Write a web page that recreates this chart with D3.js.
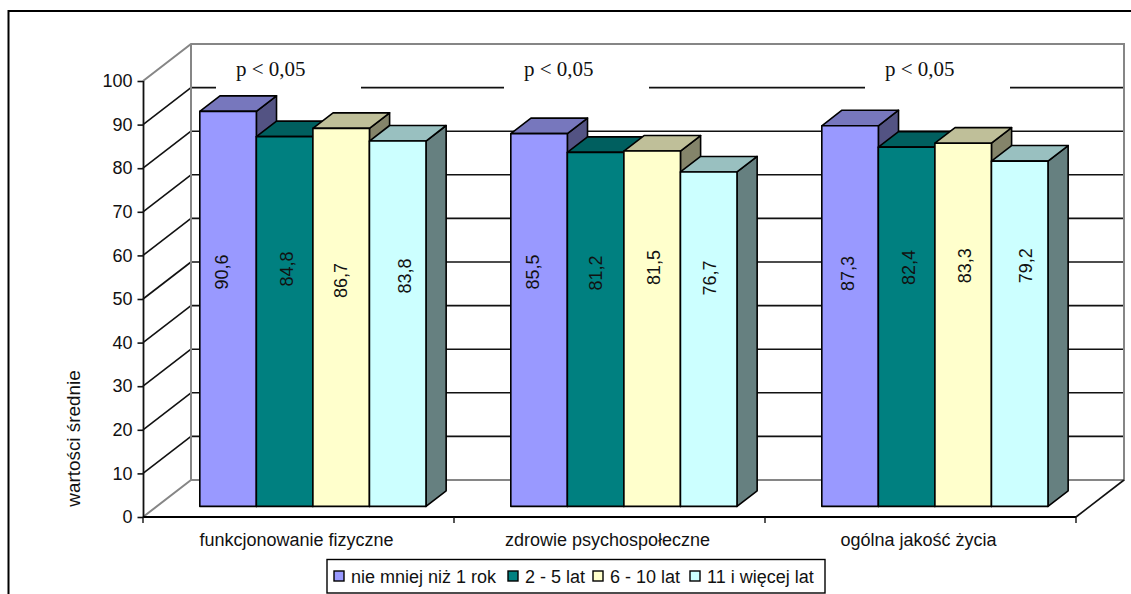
<!DOCTYPE html>
<html lang="pl">
<head>
<meta charset="utf-8">
<title>Wartości średnie</title>
<script src="https://cdn.jsdelivr.net/npm/d3@7/dist/d3.min.js"></script>
<style>
  html, body { margin: 0; padding: 0; background: #fff; overflow: hidden; }
  svg { display: block; }
  text { font-family: "Liberation Sans", Arial, sans-serif; fill: #111; }
  .note { font-family: "Liberation Serif", "Times New Roman", serif; }
</style>
</head>
<body>
<svg id="chart" width="1131" height="594"></svg>
<script>
// Chart values
const categories = ["funkcjonowanie fizyczne", "zdrowie psychospołeczne", "ogólna jakość życia"];
const seriesNames = ["nie mniej niż 1 rok", "2 - 5 lat", "6 - 10 lat", "11 i więcej lat"];
const firstYear = [90.6, 85.5, 87.3];
const twoToFive = [84.8, 81.2, 82.4];
const sixToTen = [86.7, 81.5, 83.3];
const elevenPlus = [83.8, 76.7, 79.2];
const seriesValues = [firstYear, twoToFive, sixToTen, elevenPlus];
const yTicks = [0, 10, 20, 30, 40, 50, 60, 70, 80, 90, 100];
const pNote = "p < 0,05";

// Face colours for each series: front, top, side
const frontColors = ["#9999ff", "#008080", "#ffffcc", "#ccffff"];
const topColors = ["#7777bd", "#005f5f", "#bfbf99", "#99c0c0"];
const sideColors = ["#535383", "#004545", "#84846a", "#668080"];

// Hand-placed data labels: [dx from bar centre, y centre], per series and category
const labelPlacement = [
  [[-6.5, 272], [-7, 272], [-3, 273.5]],
  [[1.5, 269], [-0.6, 273], [2, 267.5]],
  [[-1, 280.5], [1, 267.5], [1, 265.7]],
  [[6.5, 276], [0.4, 278], [5.4, 265.7]]
];

// Projection of the oblique 3D box
const wallDx = 48, wallDy = -37;
const barFrontDepth = 0.3, barBackDepth = 0.72;
const plotLeft = 143, plotRight = 1076, plotBottom = 517, plotTop = 81;
const lineWidth = 1.6;

const svg = d3.select("#chart");
const x0 = d3.scaleBand().domain(d3.range(categories.length)).range([plotLeft, plotRight]);
const gapShare = 1.5 / 5.5;
const x1 = d3.scaleBand().domain(d3.range(seriesNames.length))
  .range([x0.bandwidth() * gapShare / 2, x0.bandwidth() * (1 - gapShare / 2)]);
const y = d3.scaleLinear().domain([0, 100]).range([plotBottom, plotTop]);

// Chart frame: top and left edges only are in view
svg.append("path").attr("d", "M8.5,594V11H1131")
  .attr("fill", "none").attr("stroke", "#000").attr("stroke-width", 2);

// Back wall, side wall grid and floor edges
const grey = "#868686";
const wall = svg.append("g").attr("fill", "none");
wall.selectAll("line.grid").data(yTicks.filter(t => t > 0 && t < 100)).join("line")
  .attr("class", "grid")
  .attr("x1", plotLeft + wallDx).attr("x2", plotRight + wallDx)
  .attr("y1", d => y(d) + wallDy).attr("y2", d => y(d) + wallDy)
  .attr("stroke", "#111").attr("stroke-width", lineWidth);
wall.selectAll("line.side").data(yTicks.filter(t => t > 0 && t < 100)).join("line")
  .attr("class", "side")
  .attr("x1", plotLeft).attr("x2", plotLeft + wallDx)
  .attr("y1", d => y(d)).attr("y2", d => y(d) + wallDy)
  .attr("stroke", "#111").attr("stroke-width", lineWidth);
wall.append("path")
  .attr("d", `M${plotLeft},${y(100)}L${plotLeft + wallDx},${y(100) + wallDy}H${plotRight + wallDx}V${y(0) + wallDy}H${plotLeft + wallDx}V${y(100) + wallDy}M${plotLeft + wallDx},${y(0) + wallDy}L${plotLeft},${y(0)}`)
  .attr("stroke", grey).attr("stroke-width", 2);
wall.append("line")
  .attr("x1", plotRight).attr("y1", y(0))
  .attr("x2", plotRight + wallDx).attr("y2", y(0) + wallDy)
  .attr("stroke", "#111").attr("stroke-width", lineWidth);

// White boxes behind the significance notes interrupt the top grid line
const noteBoxes = [[216, 361], [504, 649], [865, 1010]];
svg.append("g").selectAll("rect").data(noteBoxes).join("rect")
  .attr("x", d => d[0]).attr("width", d => d[1] - d[0])
  .attr("y", 54).attr("height", 42).attr("fill", "#fff");
svg.append("g").selectAll("text").data(noteBoxes).join("text")
  .attr("class", "note")
  .attr("x", d => d[0] + 20).attr("y", 76)
  .attr("font-size", 21).text(pNote);

// Axes
const yAxis = d3.axisLeft(y).tickValues(yTicks).tickSize(5.5).tickPadding(5);
const gy = svg.append("g").attr("transform", `translate(${plotLeft},0)`).call(yAxis);
gy.selectAll("text").attr("font-size", 18).attr("fill", "#111").style("font-family", '"Liberation Sans"');
gy.selectAll("line").attr("stroke", "#111").attr("stroke-width", lineWidth);
gy.select(".domain").attr("stroke", "#111").attr("stroke-width", 1.8).attr("d", `M0.5,${plotTop}V${plotBottom}`);

const xEdges = d3.range(categories.length + 1).map(i => i < categories.length ? x0(i) : plotRight);
const gx = svg.append("g");
gx.append("line").attr("x1", plotLeft).attr("x2", plotRight).attr("y1", plotBottom).attr("y2", plotBottom)
  .attr("stroke", "#000").attr("stroke-width", 2);
gx.selectAll("line.tick").data(xEdges).join("line").attr("class", "tick")
  .attr("x1", d => d).attr("x2", d => d).attr("y1", plotBottom).attr("y2", plotBottom + 6)
  .attr("stroke", "#111").attr("stroke-width", 1.4);
svg.append("g").selectAll("text").data(categories).join("text")
  .attr("x", (d, i) => x0(i) + x0.bandwidth() / 2 - 2).attr("y", 546)
  .attr("text-anchor", "middle").attr("font-size", 18).text(d => d);

// Y axis title
svg.append("text").attr("transform", "translate(80,438.5) rotate(-90)")
  .attr("text-anchor", "middle").attr("font-size", 18.9).text("wartości średnie");

// Bars are drawn left to right so later bars overlap the side of earlier ones
const frontDx = wallDx * barFrontDepth, frontDy = wallDy * barFrontDepth + 0.5;
const depthDx = wallDx * (barBackDepth - barFrontDepth), depthDy = wallDy * (barBackDepth - barFrontDepth);
const flat = [];
categories.forEach((c, ci) => seriesValues.forEach((vals, si) => flat.push({ ci, si, v: vals[ci] })));
const bars = svg.append("g").selectAll("g").data(flat).join("g")
  .attr("stroke", "#000").attr("stroke-width", lineWidth).attr("stroke-linejoin", "round");
const left = d => x0(d.ci) + x1(d.si) + frontDx;
const right = d => left(d) + x1.bandwidth();
const topY = d => y(d.v) + frontDy;
const baseY = () => y(0) + frontDy;
bars.append("path").attr("fill", d => sideColors[d.si])
  .attr("d", d => `M${right(d)},${topY(d)}l${depthDx},${depthDy}V${baseY() + depthDy}L${right(d)},${baseY()}Z`);
bars.append("path").attr("fill", d => topColors[d.si])
  .attr("d", d => `M${left(d)},${topY(d)}l${depthDx},${depthDy}H${right(d) + depthDx}L${right(d)},${topY(d)}Z`);
bars.append("rect").attr("fill", d => frontColors[d.si])
  .attr("x", left).attr("y", topY)
  .attr("width", x1.bandwidth()).attr("height", d => baseY() - topY(d));

// Value labels, rotated; the baseline sits 6.5px right of the glyph centre
svg.append("g").selectAll("text").data(flat).join("text")
  .attr("transform", d => {
    const p = labelPlacement[d.si][d.ci];
    return `translate(${left(d) + x1.bandwidth() / 2 + p[0] + 6.5},${p[1]}) rotate(-90)`;
  })
  .attr("text-anchor", "middle").attr("font-size", 18)
  .text(d => d3.format(".1f")(d.v).replace(".", ","));

// Legend
const legend = svg.append("g");
legend.append("rect").attr("x", 327).attr("y", 559.5).attr("width", 498).attr("height", 33.5)
  .attr("fill", "#fff").attr("stroke", "#000").attr("stroke-width", 1.4);
const legendX = [334, 508, 593, 690];
const items = legend.selectAll("g").data(seriesNames).join("g")
  .attr("transform", (d, i) => `translate(${legendX[i]},0)`);
items.append("rect").attr("y", 571).attr("width", 10).attr("height", 10)
  .attr("fill", (d, i) => frontColors[i]).attr("stroke", "#000").attr("stroke-width", 1.4);
items.append("text").attr("x", 17).attr("y", 583).attr("font-size", 18).text(d => d);
</script>
</body>
</html>
